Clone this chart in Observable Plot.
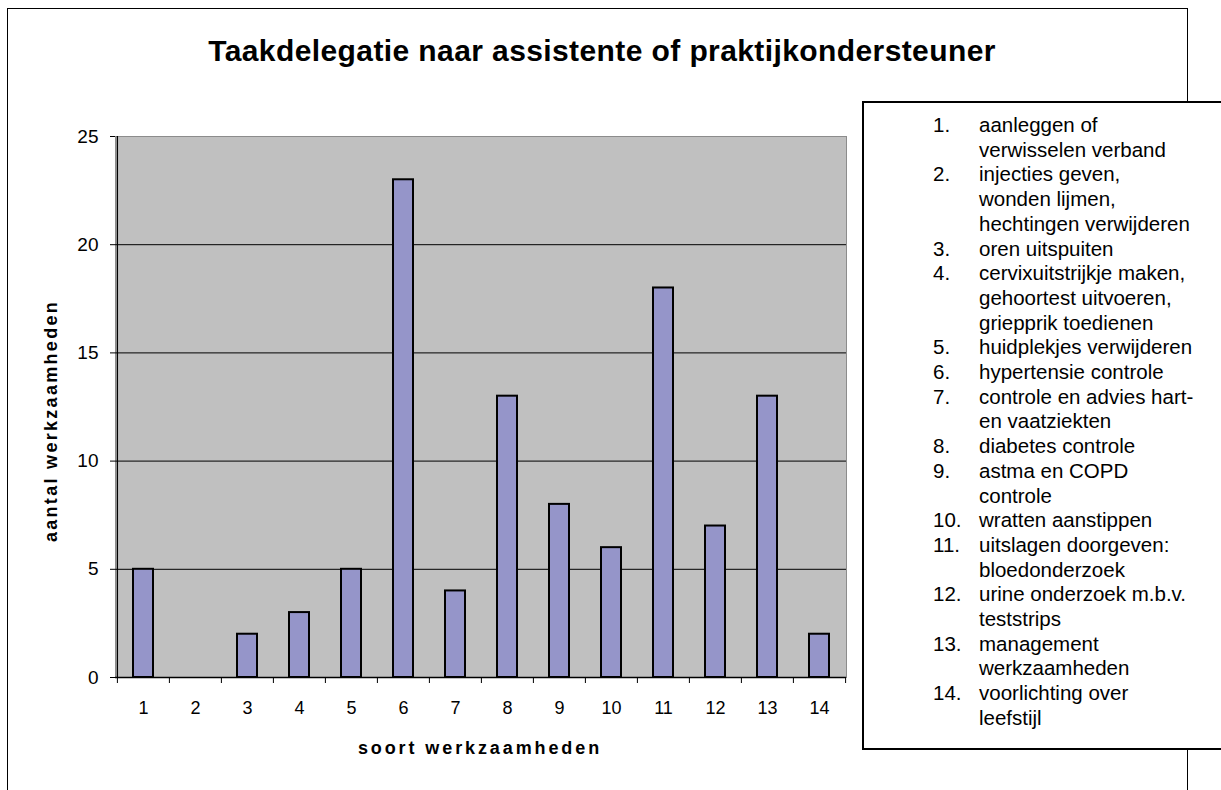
<!DOCTYPE html>
<html>
<head>
<meta charset="utf-8">
<script src="https://cdn.jsdelivr.net/npm/d3@7"></script>
<script src="https://cdn.jsdelivr.net/npm/@observablehq/plot@0.6"></script>
<style>
  html, body { margin: 0; padding: 0; background: #fff; }
  body { width: 1221px; height: 790px; position: relative; overflow: hidden;
         font-family: "Liberation Sans", Arial, sans-serif; color: #000; }
  #frame { position: absolute; left: 7px; top: 8px; width: 1181px; height: 820px;
           border: 1.5px solid #000; box-sizing: border-box; }
  #title { position: absolute; left: 0; top: 33px; width: 1204px; text-align: center;
           font-weight: bold; font-size: 30px; letter-spacing: 0.4px; line-height: 36px; }
  #chart { position: absolute; left: 0; top: 0; }
  #ytitle { position: absolute; left: 51px; top: 421px; transform: translate(-50%, -50%) rotate(-90deg);
            font-weight: bold; font-size: 18px; letter-spacing: 2.3px; white-space: nowrap; }
  #xtitle { position: absolute; left: 480px; top: 748px; transform: translate(-50%, -50%);
            font-weight: bold; font-size: 18px; letter-spacing: 2.9px; white-space: nowrap; }
  #legend { position: absolute; left: 862px; top: 101px; width: 420px; height: 649px;
            border: 2px solid #000; box-sizing: border-box; background: #fff; }
  #legend ol { list-style: none; margin: 0; padding: 0; position: absolute; left: 69px; top: 10px;
               font-size: 20.5px; line-height: 24.7px; }
  #legend li { display: flex; }
  #legend .n { width: 46px; flex: none; }
  #legend .t { white-space: pre; }
</style>
</head>
<body>
<div id="frame"></div>
<div id="chart"></div>
<div id="title"></div>
<div id="ytitle"></div>
<div id="xtitle"></div>
<div id="legend"><ol id="items"></ol></div>
<script>
const chartTitle = "Taakdelegatie naar assistente of praktijkondersteuner";
const yTitle = "aantal werkzaamheden";
const xTitle = "soort werkzaamheden";
const categories = ["1","2","3","4","5","6","7","8","9","10","11","12","13","14"];
const counts = [5, 0, 2, 3, 5, 23, 4, 13, 8, 6, 18, 7, 13, 2];
const yTicks = [0, 5, 10, 15, 20, 25];
const gridTicks = [5, 10, 15, 20];
const legendItems = [
  "aanleggen of\nverwisselen verband",
  "injecties geven,\nwonden lijmen,\nhechtingen verwijderen",
  "oren uitspuiten",
  "cervixuitstrijkje maken,\ngehoortest uitvoeren,\ngriepprik toedienen",
  "huidplekjes verwijderen",
  "hypertensie controle",
  "controle en advies hart-\nen vaatziekten",
  "diabetes controle",
  "astma en COPD\ncontrole",
  "wratten aanstippen",
  "uitslagen doorgeven:\nbloedonderzoek",
  "urine onderzoek m.b.v.\nteststrips",
  "management\nwerkzaamheden",
  "voorlichting over\nleefstijl"
];

const data = categories.map((c, i) => ({cat: c, value: counts[i]}));

const W = 860, H = 790, ML = 115, MR = 14, MT = 136, MB = 113;
const bw = (W - ML - MR) / categories.length;

const chart = Plot.plot({
  width: W, height: H,
  marginLeft: ML, marginRight: MR, marginTop: MT, marginBottom: MB,
  style: {fontFamily: "Liberation Sans, Arial, sans-serif", fontSize: "18px", color: "#000", background: "transparent", overflow: "visible"},
  x: {type: "band", domain: categories, padding: 0, label: null},
  y: {domain: [0, 25], label: null},
  marks: [
    Plot.frame({fill: "#c0c0c0", stroke: "#8c8c8c"}),
    Plot.gridY(gridTicks, {stroke: "#000", strokeOpacity: 1, strokeWidth: 1}),
    Plot.barY(data, {x: "cat", y: "value", fill: "#9595c9", stroke: "#000", strokeWidth: 2, insetLeft: 16, insetRight: 16}),
    Plot.ruleY([0], {stroke: "#000", strokeWidth: 1.3}),
    Plot.ruleX([categories[0]], {dx: -bw / 2, stroke: "#000", strokeWidth: 1.3}),
    Plot.axisY(yTicks, {tickSize: 5, tickPadding: 12, fontSize: 19, stroke: "#000"}),
    Plot.axisX({tickSize: 0, tickPadding: 24, fontSize: 18}),
    Plot.axisX({tickSize: 6, tickFormat: () => "", dx: -bw / 2, stroke: "#000"}),
    Plot.axisX([categories[categories.length - 1]], {tickSize: 6, tickFormat: () => "", dx: bw / 2, stroke: "#000"})
  ]
});
document.getElementById("chart").appendChild(chart);

document.getElementById("title").textContent = chartTitle;
document.getElementById("ytitle").textContent = yTitle;
document.getElementById("xtitle").textContent = xTitle;

const ol = document.getElementById("items");
legendItems.forEach((t, i) => {
  const li = document.createElement("li");
  const n = document.createElement("span"); n.className = "n"; n.textContent = (i + 1) + ".";
  const s = document.createElement("span"); s.className = "t"; s.textContent = t;
  li.appendChild(n); li.appendChild(s); ol.appendChild(li);
});
</script>
</body>
</html>
